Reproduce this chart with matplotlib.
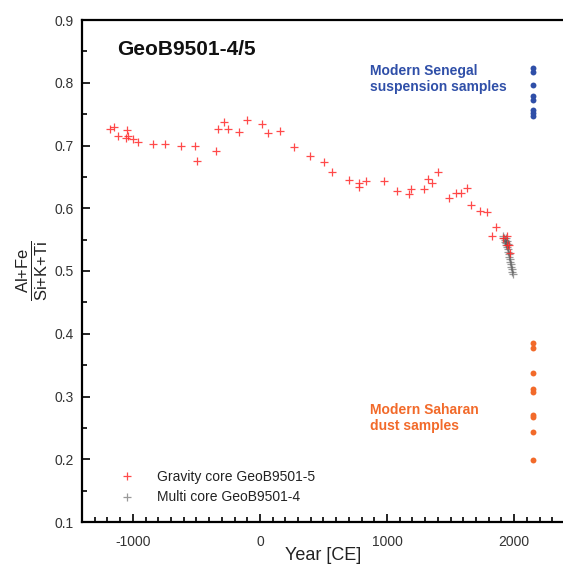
import matplotlib
matplotlib.use("Agg")
import matplotlib.pyplot as plt
from matplotlib.ticker import MultipleLocator, FixedLocator

plt.rcParams['font.family'] = ['Liberation Sans', 'DejaVu Sans']
plt.rcParams['mathtext.fontset'] = 'custom'
plt.rcParams['mathtext.rm'] = 'Liberation Sans'

# Gravity core GeoB9501-5
grav_year = [-1176, -1147, -1116, -1057, -1042, -1045, -998, -958, -840, -748,
             -624, -512, -494, -346, -333, -283, -250, -163, -105, 18,
             65, 157, 265, 394, 502, 565, 703, 777, 777, 832,
             976, 1081, 1176, 1191, 1294, 1325, 1357, 1399, 1488, 1543,
             1583, 1628, 1661, 1730, 1790, 1861, 1827, 1916, 1943, 1947,
             1963, 1969]
grav_val = [0.727, 0.730, 0.715, 0.712, 0.715, 0.724, 0.710, 0.706, 0.703, 0.703,
            0.700, 0.699, 0.676, 0.691, 0.726, 0.737, 0.726, 0.722, 0.740, 0.734,
            0.720, 0.723, 0.698, 0.684, 0.674, 0.657, 0.645, 0.641, 0.634, 0.643,
            0.643, 0.627, 0.623, 0.630, 0.630, 0.647, 0.641, 0.657, 0.617, 0.624,
            0.625, 0.633, 0.605, 0.596, 0.594, 0.570, 0.555, 0.552, 0.555, 0.541,
            0.541, 0.528]

# Multi core GeoB9501-4
multi_year = [1915, 1920, 1925, 1928, 1932, 1935, 1938, 1942, 1945, 1948,
              1952, 1955, 1960, 1963, 1967, 1970, 1974, 1978, 1982, 1986, 1990]
multi_val = [0.556, 0.553, 0.549, 0.546, 0.552, 0.545, 0.541, 0.548, 0.538, 0.543,
             0.535, 0.531, 0.527, 0.523, 0.519, 0.515, 0.511, 0.507, 0.503, 0.499, 0.496]

# Modern samples
senegal_year = [2148] * 8
senegal_val = [0.823, 0.817, 0.796, 0.779, 0.773, 0.756, 0.751, 0.747]
sahara_year = [2148] * 9
sahara_val = [0.385, 0.378, 0.338, 0.312, 0.307, 0.270, 0.267, 0.244, 0.199]

xticks = [-1000, 0, 1000, 2000]
yticks = [0.1, 0.2, 0.3, 0.4, 0.5, 0.6, 0.7, 0.8, 0.9]

fig = plt.figure(figsize=(5.63, 5.65), dpi=100)
ax = fig.add_axes([82/563, 43/565, 483/563, 502/565])

ax.plot(grav_year, grav_val, linestyle='none', marker='+', markersize=6,
        markeredgewidth=0.9, color='#ff2a2a', alpha=0.85,
        label='Gravity core GeoB9501-5', zorder=3)
ax.plot(multi_year, multi_val, linestyle='none', marker='+', markersize=6,
        markeredgewidth=0.9, color='#555555', alpha=0.6,
        label='Multi core GeoB9501-4', zorder=2)
ax.scatter(senegal_year, senegal_val, s=18, color='#2f4fa8', zorder=3, linewidths=0)
ax.scatter(sahara_year, sahara_val, s=18, color='#f26a2a', zorder=3, linewidths=0)

ax.set_xlim(-1400, 2400)
ax.set_ylim(0.1, 0.9)
ax.xaxis.set_major_locator(FixedLocator(xticks))
ax.xaxis.set_minor_locator(MultipleLocator(100))
ax.yaxis.set_major_locator(FixedLocator(yticks))
ax.yaxis.set_minor_locator(MultipleLocator(0.05))
ax.set_yticklabels(['%.1f' % v for v in yticks])
ax.set_xticklabels([str(v) for v in xticks])

for s in ax.spines.values():
    s.set_linewidth(1.6)
ax.tick_params(which='both', direction='in', width=1.2, labelsize=10,
               labelcolor='#333333', top=False, right=False)
ax.tick_params(which='major', length=6)
ax.tick_params(which='minor', length=3.5)
ax.tick_params(axis='x', which='major', pad=9)
ax.tick_params(axis='y', which='major', pad=6)

ax.set_xlabel('Year [CE]', fontsize=13, color='#222222', labelpad=-1)
ax.set_ylabel(r'$\frac{\mathrm{Al{+}Fe}}{\mathrm{Si{+}K{+}Ti}}$', fontsize=17,
              color='#222222', labelpad=3)

fig.text(117/563, 1 - 55/565, 'GeoB9501-4/5', fontsize=15, fontweight='bold',
         color='#111111', ha='left', va='baseline')
fig.text(370/563, 1 - 91/565, 'Modern Senegal\nsuspension samples', fontsize=10,
         fontweight='bold', color='#2f4fa8', ha='left', va='baseline',
         linespacing=1.15)
fig.text(370/563, 1 - 430/565, 'Modern Saharan\ndust samples', fontsize=10,
         fontweight='bold', color='#f26a2a', ha='left', va='baseline',
         linespacing=1.15)

leg = ax.legend(loc='upper left', bbox_to_anchor=(106/563, 1 - 457/565),
                bbox_transform=fig.transFigure, frameon=False, fontsize=10,
                handlelength=1.2, handletextpad=1.6, labelspacing=0.5,
                markerscale=0.9)
for t in leg.get_texts():
    t.set_color('#222222')

fig.savefig('out.png', dpi=100)
